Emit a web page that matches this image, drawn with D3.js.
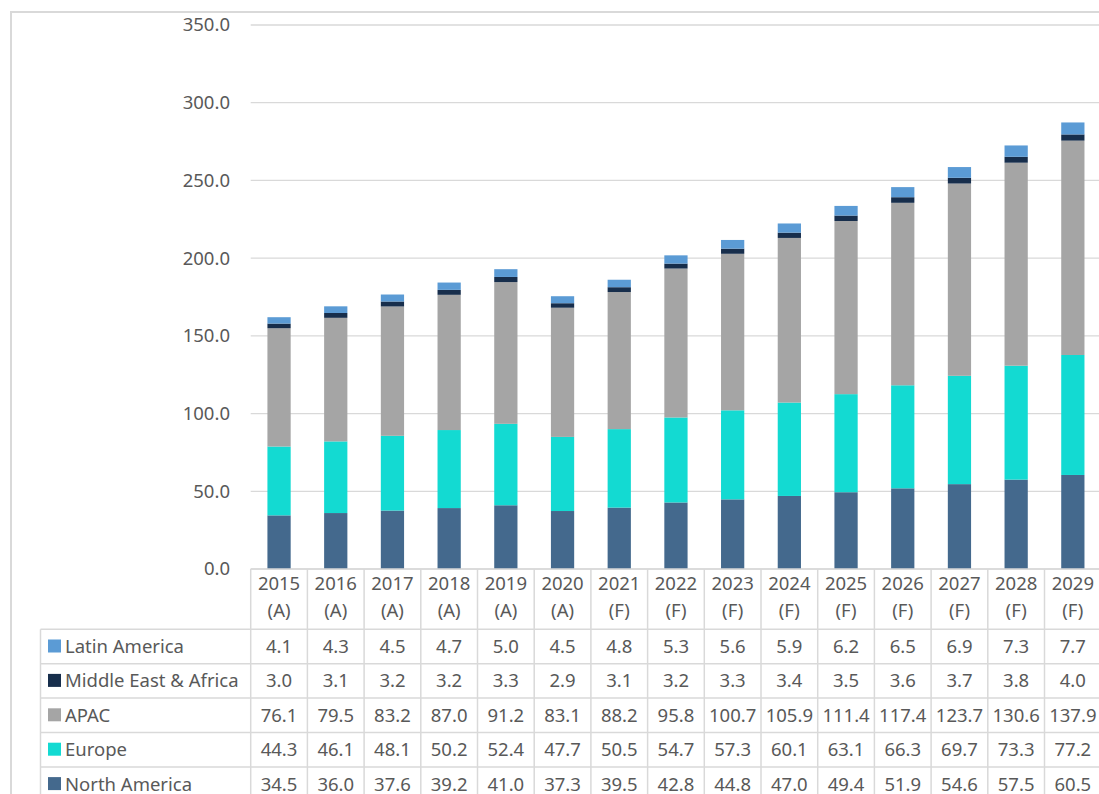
<!DOCTYPE html>
<html>
<head>
<meta charset="utf-8">
<script src="https://cdn.jsdelivr.net/npm/d3@7"></script>
<style>
  body { margin: 0; background: #fff; }
  text { font-family: "Noto Sans", "Open Sans", sans-serif; fill: #595959; }
</style>
</head>
<body>
<div id="chart"></div>
<script>
// chart data
var years = ["2015", "2016", "2017", "2018", "2019", "2020", "2021", "2022", "2023", "2024", "2025", "2026", "2027", "2028", "2029"];
var yearTags = ["(A)", "(A)", "(A)", "(A)", "(A)", "(A)", "(F)", "(F)", "(F)", "(F)", "(F)", "(F)", "(F)", "(F)", "(F)"];
var regions = ["North America", "Europe", "APAC", "Middle East & Africa", "Latin America"];
var northAmerica = [34.5, 36.0, 37.6, 39.2, 41.0, 37.3, 39.5, 42.8, 44.8, 47.0, 49.4, 51.9, 54.6, 57.5, 60.5];
var europe = [44.3, 46.1, 48.1, 50.2, 52.4, 47.7, 50.5, 54.7, 57.3, 60.1, 63.1, 66.3, 69.7, 73.3, 77.2];
var apac = [76.1, 79.5, 83.2, 87.0, 91.2, 83.1, 88.2, 95.8, 100.7, 105.9, 111.4, 117.4, 123.7, 130.6, 137.9];
var mea = [3.0, 3.1, 3.2, 3.2, 3.3, 2.9, 3.1, 3.2, 3.3, 3.4, 3.5, 3.6, 3.7, 3.8, 4.0];
var latam = [4.1, 4.3, 4.5, 4.7, 5.0, 4.5, 4.8, 5.3, 5.6, 5.9, 6.2, 6.5, 6.9, 7.3, 7.7];
var yTicks = [0, 50, 100, 150, 200, 250, 300, 350];

var colors = {
  "North America": "#44698d",
  "Europe": "#13dad2",
  "APAC": "#a5a5a5",
  "Middle East & Africa": "#172e4c",
  "Latin America": "#5b9bd5"
};

var svgWidth = 1099;
var svgHeight = 794;
var fontSize = "18.5px";

// layout of plot + table
var plotLeft = 250.7;
var colW = 56.7;
var plotTop = 25;
var plotBottom = 569;
var headerBottom = 629.3;
var rowH = 34.4;
var tableLeft = 40.5;

var seriesByName = {
  "North America": northAmerica,
  "Europe": europe,
  "APAC": apac,
  "Middle East & Africa": mea,
  "Latin America": latam
};

var rows = years.map(function(y, i) {
  var r = { year: y };
  regions.forEach(function(name) { r[name] = seriesByName[name][i]; });
  return r;
});

var svg = d3.select("#chart")
  .append("svg")
  .attr("width", svgWidth)
  .attr("height", svgHeight);

// outer frame
svg.append("path")
  .attr("d", "M11,794 V12 H1099")
  .attr("fill", "none")
  .attr("stroke", "#d9d9d9")
  .attr("stroke-width", 2);

var xScale = d3.scaleBand()
  .domain(years)
  .range([plotLeft, plotLeft + colW * years.length])
  .paddingInner(0.59)
  .paddingOuter(0.295);

var yScale = d3.scaleLinear()
  .domain([0, 350])
  .range([plotBottom, plotTop]);

// gridlines
svg.append("g")
  .selectAll("line")
  .data(yTicks)
  .enter()
  .append("line")
  .attr("x1", plotLeft)
  .attr("x2", svgWidth)
  .attr("y1", d => yScale(d))
  .attr("y2", d => yScale(d))
  .attr("stroke", "#d9d9d9")
  .attr("stroke-width", 1.3);

// y axis labels
var leftAxis = d3.axisLeft(yScale)
  .tickValues(yTicks)
  .tickFormat(d3.format(".1f"))
  .tickSize(0)
  .tickPadding(0);

var yAxis = svg.append("g")
  .attr("transform", "translate(230,0)")
  .call(leftAxis);
yAxis.select(".domain").remove();
yAxis.selectAll("text")
  .attr("font-size", fontSize)
  .style("fill", "#595959");

// stacked bars
var stack = d3.stack().keys(regions);
var stacked = stack(rows);

svg.append("g")
  .selectAll("g")
  .data(stacked)
  .enter()
  .append("g")
  .attr("fill", d => colors[d.key])
  .selectAll("rect")
  .data(d => d)
  .enter()
  .append("rect")
  .attr("x", d => xScale(d.data.year))
  .attr("y", d => yScale(d[1]))
  .attr("width", xScale.bandwidth())
  .attr("height", d => yScale(d[0]) - yScale(d[1]));

// data table
var table = svg.append("g");
var tableRight = plotLeft + colW * years.length;
var tableOrder = regions.slice().reverse();
var lineColor = "#d9d9d9";

// header vertical lines
for (var i = 0; i <= years.length; i++) {
  table.append("line")
    .attr("x1", plotLeft + i * colW)
    .attr("x2", plotLeft + i * colW)
    .attr("y1", plotBottom)
    .attr("y2", svgHeight)
    .attr("stroke", lineColor)
    .attr("stroke-width", 1.5);
}
// legend column left line
table.append("line")
  .attr("x1", tableLeft).attr("x2", tableLeft)
  .attr("y1", headerBottom).attr("y2", svgHeight)
  .attr("stroke", lineColor).attr("stroke-width", 1.5);

// horizontal lines
table.append("line")
  .attr("x1", plotLeft).attr("x2", tableRight)
  .attr("y1", plotBottom).attr("y2", plotBottom)
  .attr("stroke", lineColor).attr("stroke-width", 1.5);
for (var j = 0; j <= tableOrder.length; j++) {
  table.append("line")
    .attr("x1", tableLeft)
    .attr("x2", tableRight)
    .attr("y1", headerBottom + j * rowH)
    .attr("y2", headerBottom + j * rowH)
    .attr("stroke", lineColor)
    .attr("stroke-width", 1.5);
}

// header labels
years.forEach(function(y, i) {
  var cx = xScale(y) + xScale.bandwidth() / 2;
  table.append("text")
    .attr("x", cx).attr("y", 590)
    .attr("text-anchor", "middle")
    .attr("font-size", fontSize)
    .text(y);
  table.append("text")
    .attr("x", cx).attr("y", 617)
    .attr("text-anchor", "middle")
    .attr("font-size", fontSize)
    .text(yearTags[i]);
});

// table rows
tableOrder.forEach(function(name, r) {
  var cy = headerBottom + r * rowH + rowH / 2;
  table.append("rect")
    .attr("x", 48).attr("y", cy - 7)
    .attr("width", 13).attr("height", 13)
    .attr("fill", colors[name]);
  table.append("text")
    .attr("x", 65).attr("y", cy + 6.5)
    .attr("font-size", fontSize)
    .text(name);
  seriesByName[name].forEach(function(v, i) {
    table.append("text")
      .attr("x", xScale(years[i]) + xScale.bandwidth() / 2)
      .attr("y", cy + 6.5)
      .attr("text-anchor", "middle")
      .attr("font-size", fontSize)
      .text(v.toFixed(1));
  });
});
</script>
</body>
</html>
